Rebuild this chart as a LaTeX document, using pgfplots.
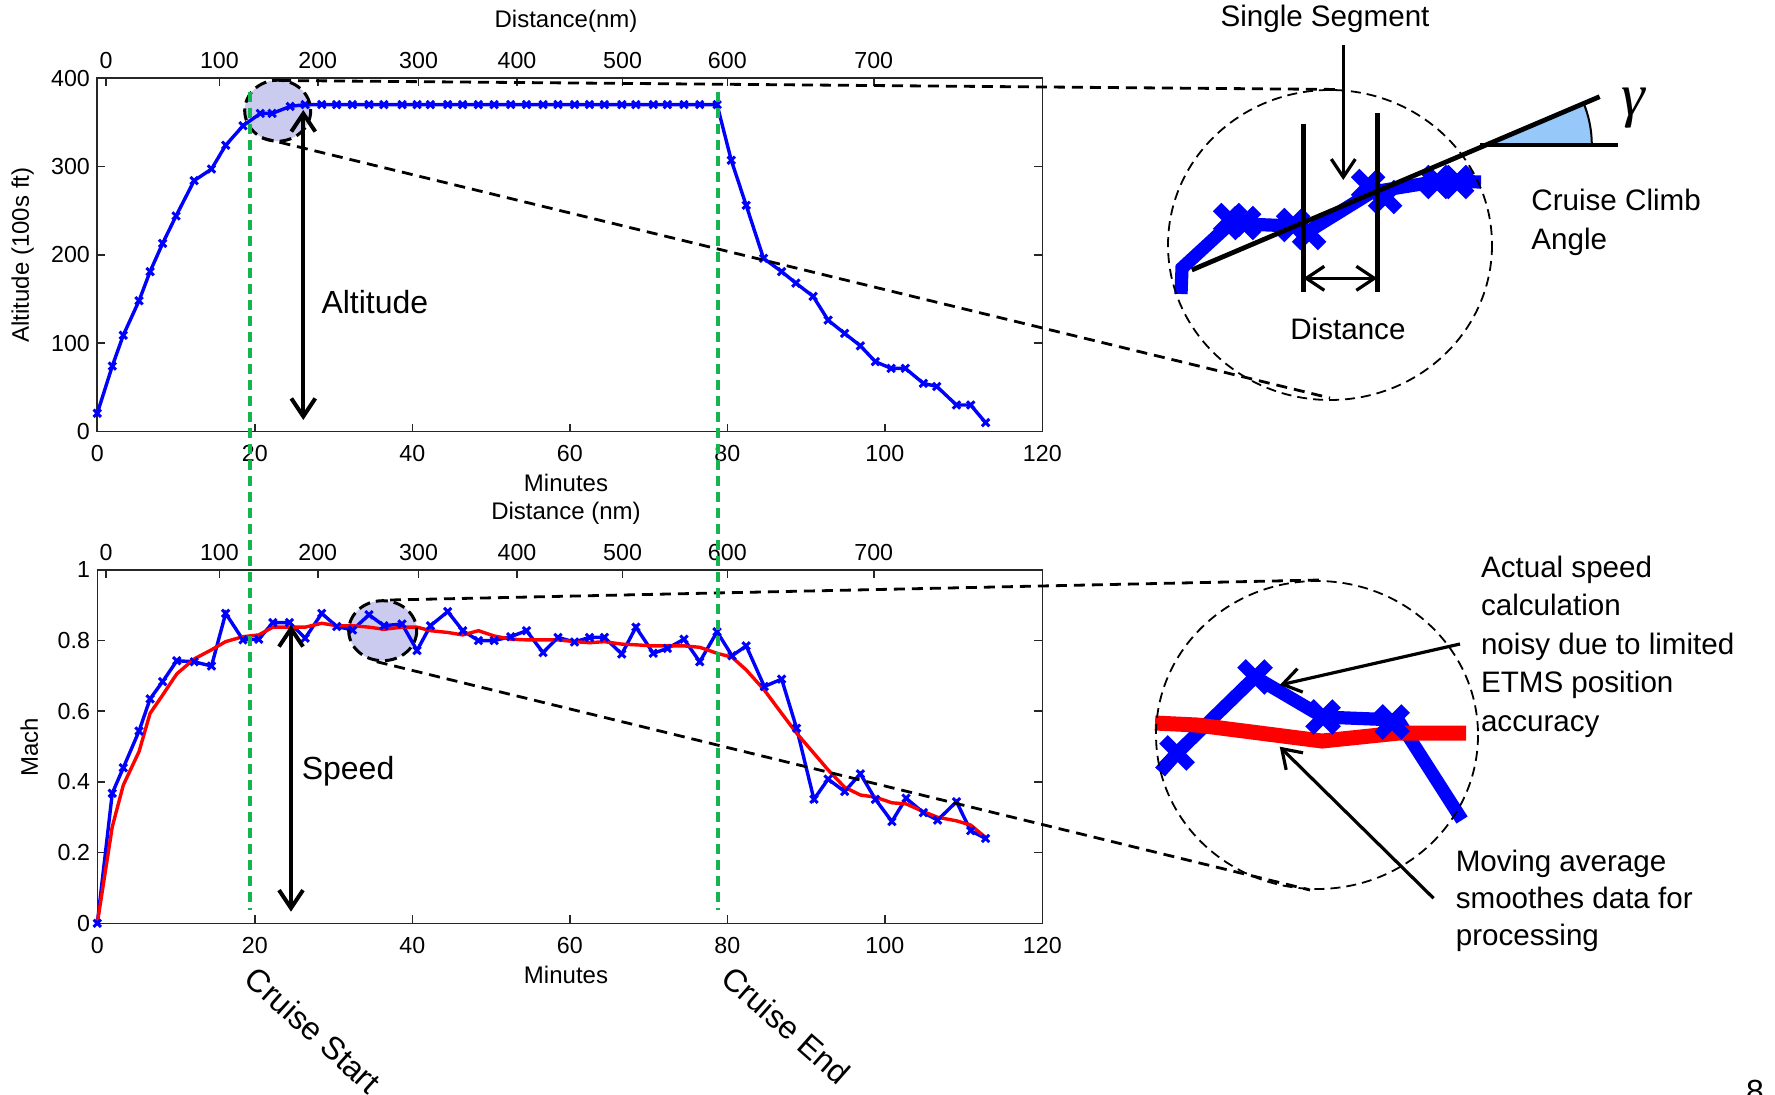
\documentclass[border=0pt]{standalone}
\usepackage{pgfplots}
\pgfplotsset{compat=1.18}
\usepackage{fontspec}
\setmainfont{Liberation Sans}
\newfontfamily\serifgreek{Liberation Serif}
\usetikzlibrary{arrows.meta}

\definecolor{mblue}{rgb}{0,0,1}
\definecolor{mred}{rgb}{1,0,0}
\definecolor{mgreen}{RGB}{20,180,80}
\definecolor{circfill}{RGB}{203,203,240}
\definecolor{wedge}{RGB}{150,200,250}

\pgfplotsset{
  mainax/.style={scale only axis, width=236.25pt, height=88.35pt,
    xmin=0, xmax=120, tick align=inside, major tick length=2pt,
    axis line style={line width=0.4pt, black!85},
    every tick/.style={black!85, line width=0.4pt},
    tick label style={font=\fontsize{5.8}{6}\selectfont},
    /pgf/number format/assume math mode=true,
    xtick={0,20,...,120}, xtick pos=left, xticklabel pos=left,
    ytick pos=both, yticklabel pos=left,
    xticklabel style={inner sep=0pt, anchor=north, yshift=-3.3pt},
    yticklabel style={inner sep=0pt, anchor=east, xshift=-1.65pt},
    clip=false},
  distax/.style={scale only axis, width=236.25pt, height=88.35pt,
    xmin=0, xmax=120, ymin=0, ymax=1, tick align=inside, major tick length=2pt,
    axis x line*=top, hide y axis, x axis line style={draw=none},
    every tick/.style={black!85, line width=0.4pt},
    tick label style={font=\fontsize{5.8}{6}\selectfont},
    /pgf/number format/assume math mode=true,
    xtick={1.1,15.5,28.0,40.8,53.3,66.7,80.0,98.6},
    xticklabels={0,100,200,300,400,500,600,700},
    xticklabel style={inner sep=0pt, anchor=south, yshift=2.2pt}},
  bluedata/.style={mblue, line width=0.85pt, mark=x, mark size=1.3pt,
    mark options={line width=0.75pt, solid}},
}

\pgfplotstableread{
t alt
0 20.6
1.9 74
3.3 109
5.3 148
6.7 181
8.3 213
10.0 244
12.3 284
14.5 297
16.3 324
18.5 346
20.7 360
22.2 360
24.5 368
26.4 370
28.5 370
30.4 370
32.4 370
34.5 370
36.4 370
38.7 370
40.6 370
42.3 370
44.5 370
46.4 370
48.4 370
50.4 370
52.5 370
54.5 370
56.6 370
58.5 370
60.6 370
62.5 370
64.4 370
66.6 370
68.4 370
70.6 370
72.4 370
74.5 370
76.5 370
78.7 370
80.5 307
82.4 256
84.6 196
86.9 181
88.7 168
90.9 153
92.8 126
94.9 111
96.9 97
98.8 79
100.8 71.5
102.6 71.5
104.9 54.5
106.6 51
109.1 30
110.9 30
112.8 10
}\alttable

\pgfplotstableread{
t mach
0 0
1.9 0.368
3.3 0.44
5.3 0.544
6.7 0.635
8.3 0.684
10.1 0.743
12.3 0.740
14.5 0.728
16.3 0.877
18.5 0.802
20.5 0.804
22.3 0.851
24.4 0.851
26.4 0.807
28.5 0.877
30.4 0.840
32.4 0.830
34.5 0.873
36.4 0.842
38.7 0.847
40.6 0.772
42.3 0.842
44.5 0.882
46.4 0.828
48.4 0.800
50.4 0.800
52.5 0.811
54.5 0.828
56.6 0.766
58.5 0.809
60.6 0.796
62.5 0.809
64.4 0.809
66.6 0.762
68.4 0.838
70.6 0.764
72.4 0.778
74.5 0.804
76.5 0.740
78.7 0.825
80.6 0.757
82.4 0.785
84.7 0.670
86.9 0.691
88.8 0.552
91.0 0.351
92.8 0.408
94.9 0.373
96.9 0.423
98.8 0.351
100.9 0.288
102.7 0.354
104.9 0.313
106.7 0.292
109.1 0.344
110.9 0.262
112.8 0.240
}\machtable

\pgfplotstableread{
t avg
0 0
1.9 0.273
3.3 0.391
5.3 0.486
6.7 0.594
8.3 0.646
10.1 0.706
12.3 0.748
14.5 0.774
16.3 0.797
18.5 0.811
20.5 0.816
22.3 0.838
24.4 0.838
26.4 0.838
28.5 0.849
30.4 0.842
32.4 0.842
34.5 0.838
36.4 0.832
38.7 0.838
40.6 0.838
42.3 0.828
44.5 0.823
46.4 0.816
48.4 0.828
50.4 0.813
52.5 0.804
54.5 0.802
56.6 0.802
58.5 0.802
60.6 0.797
62.5 0.794
64.4 0.797
66.6 0.790
68.4 0.788
70.6 0.785
72.4 0.785
74.5 0.785
76.5 0.781
78.7 0.764
80.6 0.753
82.4 0.717
84.7 0.660
86.9 0.594
88.8 0.538
91.0 0.481
92.8 0.434
94.9 0.385
96.9 0.363
98.8 0.357
100.9 0.341
102.7 0.338
104.9 0.316
106.7 0.300
109.1 0.290
110.9 0.278
112.8 0.243
}\avgtable

\begin{document}
\begin{tikzpicture}
\useasboundingbox (0,0) rectangle (443.75pt,273.5pt);

% shaded zoom regions (behind data)
\begin{scope}[x=0.25pt,y=-0.25pt,yshift=273.5pt]
  \fill[circfill] (277.7,110.7) ellipse[x radius=33, y radius=30.5];
  \fill[circfill] (382.7,630.7) ellipse[x radius=34, y radius=30];
\end{scope}

% ---------- top: altitude ----------
\begin{axis}[mainax, at={(24.325pt,165.625pt)}, anchor=south west,
  ymin=0, ymax=400, ytick={0,100,200,300,400}]
  \addplot[bluedata] table[x=t,y=alt] {\alttable};
\end{axis}
\begin{axis}[distax, at={(24.325pt,165.625pt)}, anchor=south west]
\end{axis}

% ---------- bottom: mach ----------
\begin{axis}[mainax, at={(24.325pt,42.675pt)}, anchor=south west,
  ymin=0, ymax=1, ytick={0,0.2,0.4,0.6,0.8,1},
  yticklabels={0,0.2,0.4,0.6,0.8,1}]
  \addplot[bluedata] table[x=t,y=mach] {\machtable};
  \addplot[mred, line width=0.85pt] table[x=t,y=avg] {\avgtable};
\end{axis}
\begin{axis}[distax, at={(24.325pt,42.675pt)}, anchor=south west]
\end{axis}

% ---------- magnified insets (pixel frame) ----------
\begin{axis}[at={(0pt,0pt)}, anchor=south west, scale only axis,
  width=443.75pt, height=273.5pt, xmin=0, xmax=1775, ymin=0, ymax=1094,
  y dir=reverse, hide axis, clip=false]
  \addplot[mblue, line width=3.3pt] coordinates {(1181,294)(1182,268)(1232,222)(1245,224)(1293,226)(1309,231)(1372,192)(1440,181)(1481,182)};
  \addplot[mblue, only marks, mark=x, mark size=4.6pt, mark options={line width=3pt}] coordinates {(1230,220)(1244,223)(1293,225)(1309,233)(1368,186)(1385,197)(1437,182)(1457,182)};
  \addplot[mblue, line width=3.3pt] coordinates {(1160,772)(1177,753)(1255,677)(1323,717)(1398,720)(1462,820)};
  \addplot[mblue, only marks, mark=x, mark size=4.8pt, mark options={line width=3pt}] coordinates {(1177,753)(1255,677)(1323,717)(1392,722)};
  \addplot[mred, line width=3.75pt] coordinates {(1155,723)(1197,725)(1322,741)(1399,733)(1466,733)};
\end{axis}

% ---------- annotations ----------
\begin{scope}[x=0.25pt,y=-0.25pt,yshift=273.5pt,
  barb/.style={-{Straight Barb[length=4.5pt,width=6pt]}},
  dbarb/.style={{Straight Barb[length=4.5pt,width=6pt]}-{Straight Barb[length=4.5pt,width=6pt]}}]
  % small circle borders
  \draw[line width=0.75pt, dash pattern=on 3pt off 1.5pt] (277.7,110.7) ellipse[x radius=33, y radius=30.5];
  \draw[line width=0.75pt, dash pattern=on 3pt off 1.5pt] (382.7,630.7) ellipse[x radius=34, y radius=30];
  % connecting dashed lines
  \draw[line width=0.7pt, dash pattern=on 2.75pt off 1.75pt] (280,80.5) -- (1340,89.5);
  \draw[line width=0.7pt, dash pattern=on 2.75pt off 1.75pt] (262,138) -- (1330,398);
  \draw[line width=0.7pt, dash pattern=on 2.75pt off 1.75pt] (390,600) -- (1320,580);
  \draw[line width=0.7pt, dash pattern=on 2.75pt off 1.75pt] (376.7,661.7) -- (1310,890);
  % big circles
  \draw[line width=0.45pt, dash pattern=on 2.5pt off 1.5pt] (1330,245) ellipse[x radius=162, y radius=155];
  \draw[line width=0.45pt, dash pattern=on 2.5pt off 1.5pt] (1317,735) ellipse[x radius=161, y radius=154];
  % green cruise markers
  \draw[mgreen, line width=0.9pt, dash pattern=on 2.5pt off 1.5pt] (249.8,92) -- (249.8,910);
  \draw[mgreen, line width=0.9pt, dash pattern=on 2.5pt off 1.5pt] (717.9,92) -- (717.9,910);
  % altitude / speed arrows
  \draw[dbarb, line width=1pt] (303.3,110) -- (303.3,420);
  \draw[dbarb, line width=1pt] (291,625) -- (291,911.7);
  \node[anchor=base west, inner sep=0pt, font=\fontsize{8}{9.6}\selectfont] at (320.7,313.3) {Altitude};
  \node[anchor=base west, inner sep=0pt, font=\fontsize{8}{9.6}\selectfont] at (301,779.3) {Speed};
  % axis labels
  \node[font=\fontsize{6}{7}\selectfont] at (566,21.5) {Distance(nm)};
  \node[font=\fontsize{6}{7}\selectfont] at (566,483) {Minutes};
  \node[font=\fontsize{6}{7}\selectfont] at (566,513) {Distance (nm)};
  \node[font=\fontsize{6}{7}\selectfont] at (566,975) {Minutes};
  \node[rotate=90, font=\fontsize{6}{7}\selectfont] at (22.6,255) {Altitude (100s ft)};
  \node[rotate=90, font=\fontsize{6}{7}\selectfont] at (29.4,747) {Mach};
  % cruise start / end
  \node[rotate=-42, font=\fontsize{8}{9.6}\selectfont] at (313.3,1030) {Cruise Start};
  \node[rotate=-41.3, font=\fontsize{8}{9.6}\selectfont] at (786,1025) {Cruise End};
  % top inset geometry
  \fill[wedge] (1480.8,145) -- (1591.8,145) arc[start angle=0, end angle=-23, radius=111] -- cycle;
  \draw[line width=0.5pt] (1591.8,145) arc[start angle=0, end angle=-23, radius=111];
  \draw[line width=1.2pt] (1191.8,270) -- (1599.6,96.7);
  \draw[line width=1.2pt] (1480,145) -- (1618,145);
  \draw[line width=1.2pt] (1303.4,124) -- (1303.4,291.7);
  \draw[line width=1.2pt] (1377.2,113.3) -- (1377.2,291.7);
  \draw[dbarb, line width=0.8pt] (1303.4,278.3) -- (1377.2,278.3);
  \draw[barb, line width=0.8pt] (1343.3,45) -- (1343.3,180);
  \node[font=\fontsize{15}{17}\serifgreek\itshape] at (1633,108) {γ};
  \node[anchor=base west, inner sep=0pt, font=\fontsize{7.4}{9}\selectfont] at (1219.7,26.7) {Single Segment};
  \node[anchor=base west, inner sep=0pt, font=\fontsize{7.4}{9}\selectfont] at (1289.5,339.3) {Distance};
  \node[anchor=base west, inner sep=0pt, font=\fontsize{7.4}{9}\selectfont] at (1530.6,210.7) {Cruise Climb};
  \node[anchor=base west, inner sep=0pt, font=\fontsize{7.4}{9}\selectfont] at (1530.6,249.3) {Angle};
  % bottom inset annotations
  \draw[barb, line width=0.8pt] (1460,644) -- (1279.7,685);
  \draw[barb, line width=0.8pt] (1433.6,898.3) -- (1279.7,746.7);
  \node[anchor=base west, inner sep=0pt, font=\fontsize{7.4}{9}\selectfont] at (1480.2,577.3) {Actual speed};
  \node[anchor=base west, inner sep=0pt, font=\fontsize{7.4}{9}\selectfont] at (1480.2,615.8) {calculation};
  \node[anchor=base west, inner sep=0pt, font=\fontsize{7.4}{9}\selectfont] at (1480.2,654.3) {noisy due to limited};
  \node[anchor=base west, inner sep=0pt, font=\fontsize{7.4}{9}\selectfont] at (1480.2,692.8) {ETMS position};
  \node[anchor=base west, inner sep=0pt, font=\fontsize{7.4}{9}\selectfont] at (1480.2,731.3) {accuracy};
  \node[anchor=base west, inner sep=0pt, font=\fontsize{7.4}{9}\selectfont] at (1455,871) {Moving average};
  \node[anchor=base west, inner sep=0pt, font=\fontsize{7.4}{9}\selectfont] at (1455,908.3) {smoothes data for};
  \node[anchor=base west, inner sep=0pt, font=\fontsize{7.4}{9}\selectfont] at (1455,945) {processing};
  % page number (cut off)
  \node[anchor=north, inner sep=0pt, font=\fontsize{8}{9.6}\selectfont] at (1755,1079) {8};
\end{scope}
\end{tikzpicture}
\end{document}
